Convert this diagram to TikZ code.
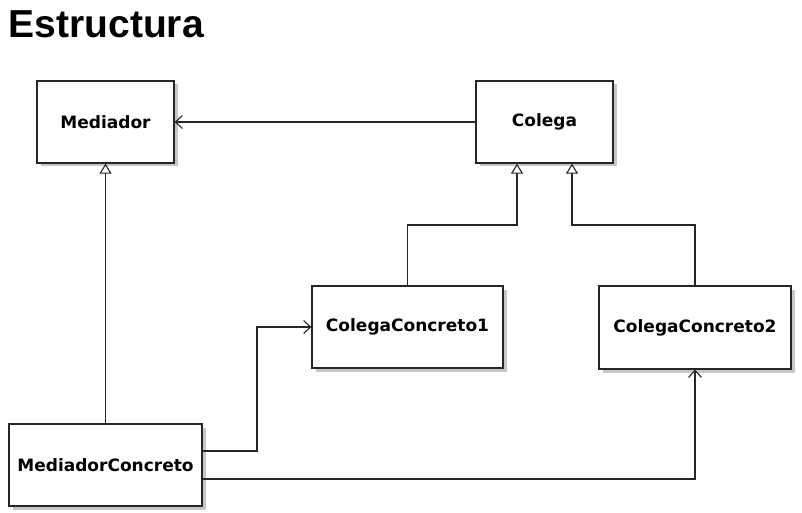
\documentclass[tikz,border=0pt]{standalone}
\usepackage{fontspec}
\setsansfont{DejaVu Sans}
\newfontfamily\titlefont{Liberation Sans}
\usetikzlibrary{arrows.meta,shadows}
\begin{document}
\begin{tikzpicture}[x=1pt,y=-1pt,
  cls/.style={draw=black!85,line width=1.2pt,fill=white,inner sep=0pt,
    font=\sffamily\bfseries\fontsize{17}{20}\selectfont,
    general shadow={fill=black!22,shadow xshift=3.5pt,shadow yshift=-3.5pt}},
  conn/.style={draw=black!85,line width=1.1pt},
  assoc/.style={conn,-{Straight Barb[length=7pt,width=13pt,line width=1.1pt]}},
  inh/.style={conn,-{Triangle[open,length=10pt,width=12pt,fill=white,line width=1.1pt]}}]
\useasboundingbox[fill=white] (0,0) rectangle (802,513);
\node[anchor=base west,inner sep=0pt,font=\titlefont\bfseries\fontsize{39}{44}\selectfont] (title) at (8.5,37.5) {Estructura};
\node[cls,minimum width=137pt,minimum height=82pt] (med) at (105.5,122) {Mediador};
\node[cls,minimum width=137pt,minimum height=82pt] (col) at (544.5,122) {Colega};
\node[cls,minimum width=191pt,minimum height=82pt] (cc1) at (407.5,327) {ColegaConcreto1};
\node[cls,minimum width=192pt,minimum height=83pt] (cc2) at (695,327.5) {ColegaConcreto2};
\node[cls,minimum width=193pt,minimum height=82pt] (mc) at (105.5,465) {MediadorConcreto};
\draw[assoc] (col.west) -- (med.east);
\draw[inh] (mc.north) -- (med.south);
\draw[inh] (cc1.north) -- (cc1.north |- 0,225) -| ([xshift=-27.5pt]col.south);
\draw[inh] (cc2.north) -- (cc2.north |- 0,225) -| ([xshift=27.5pt]col.south);
\draw[assoc] ([yshift=14pt]mc.east) -- (257,451) |- (cc1.west);
\draw[assoc] ([yshift=-14pt]mc.east) -| (cc2.south);
\end{tikzpicture}
\end{document}
